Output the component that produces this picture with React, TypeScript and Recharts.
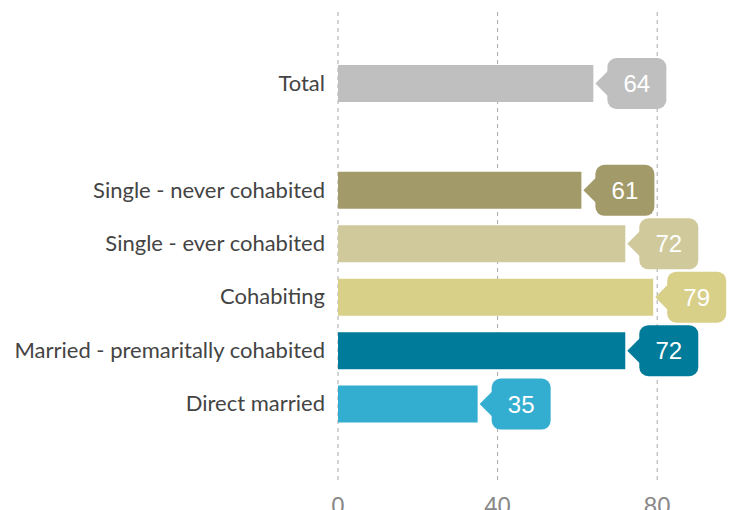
import React from "react";
import { BarChart, Bar, XAxis, YAxis, CartesianGrid, Cell, LabelList } from "recharts";

const categories = [
  "Total",
  "",
  "Single - never cohabited",
  "Single - ever cohabited",
  "Cohabiting",
  "Married - premaritally cohabited",
  "Direct married",
];
const values: (number | null)[] = [64, null, 61, 72, 79, 72, 35];
const colors = ["#bfbfbf", "#ffffff", "#a39a6a", "#d0c99b", "#d8cf89", "#007b99", "#33aed0"];
const xTicks = [0, 40, 80];

const data = categories.map((c, i) => ({ name: c, value: values[i], color: colors[i] }));
const labelColors = data.filter((d) => d.value != null).map((d) => d.color);

const Bubble = (props: any) => {
  const { x, y, width, height, value, index } = props;
  if (value == null) return null;
  const color = labelColors[index] ?? "#999";
  const end = x + width;
  const cy = y + height / 2;
  const tip = end + 2;
  const rx = end + 14;
  const w = 59;
  const h = 51;
  const r = 9;
  const top = cy - h / 2;
  return (
    <g>
      <path d={`M${tip},${cy} L${rx + 1},${cy - 13} L${rx + 1},${cy + 13} Z`} fill={color} />
      <rect x={rx} y={top} width={w} height={h} rx={r} ry={r} fill={color} />
      <text
        x={rx + w / 2}
        y={cy}
        dy={8.5}
        textAnchor="middle"
        fill="#ffffff"
        fontSize={24}
        fontFamily="Liberation Sans, Arial, sans-serif"
      >
        {value}
      </text>
    </g>
  );
};

const XTick = (props: any) => {
  const { x, y, payload } = props;
  return (
    <text x={x} y={y} dy={31} textAnchor="middle" fill="#888888" fontSize={24} fontFamily="Liberation Sans, Arial, sans-serif">
      {payload.value}
    </text>
  );
};

const YTick = (props: any) => {
  const { x, y, payload } = props;
  return (
    <text x={x} y={y} dy={7} textAnchor="end" fill="#444444" fontSize={22} fontFamily="Lato, sans-serif">
      {payload.value}
    </text>
  );
};

export default function App() {
  return (
    <div style={{ position: "absolute", left: 0, top: 0, width: 731, height: 510, overflow: "hidden", background: "#fff" }}>
      <BarChart
        width={760}
        height={540}
        data={data}
        layout="vertical"
        margin={{ top: 12, right: 23, bottom: 0, left: 0 }}
        barCategoryGap={16}
      >
        <CartesianGrid horizontal={false} vertical={true} strokeDasharray="4 4" stroke="#a8a8a8" />
        <XAxis
          type="number"
          domain={[0, 100]}
          ticks={xTicks}
          axisLine={false}
          tickLine={false}
          tickSize={0}
          height={59}
          tick={<XTick />}
        />
        <YAxis
          type="category"
          dataKey="name"
          width={338}
          axisLine={false}
          tickLine={false}
          tickSize={0}
          tickMargin={13}
          padding={{ top: 45, bottom: 50 }}
          tick={<YTick />}
          interval={0}
        />
        <Bar dataKey="value" barSize={37} isAnimationActive={false}>
          {data.map((d, i) => (
            <Cell key={i} fill={d.color} />
          ))}
          <LabelList dataKey="value" content={<Bubble />} />
        </Bar>
      </BarChart>
    </div>
  );
}
